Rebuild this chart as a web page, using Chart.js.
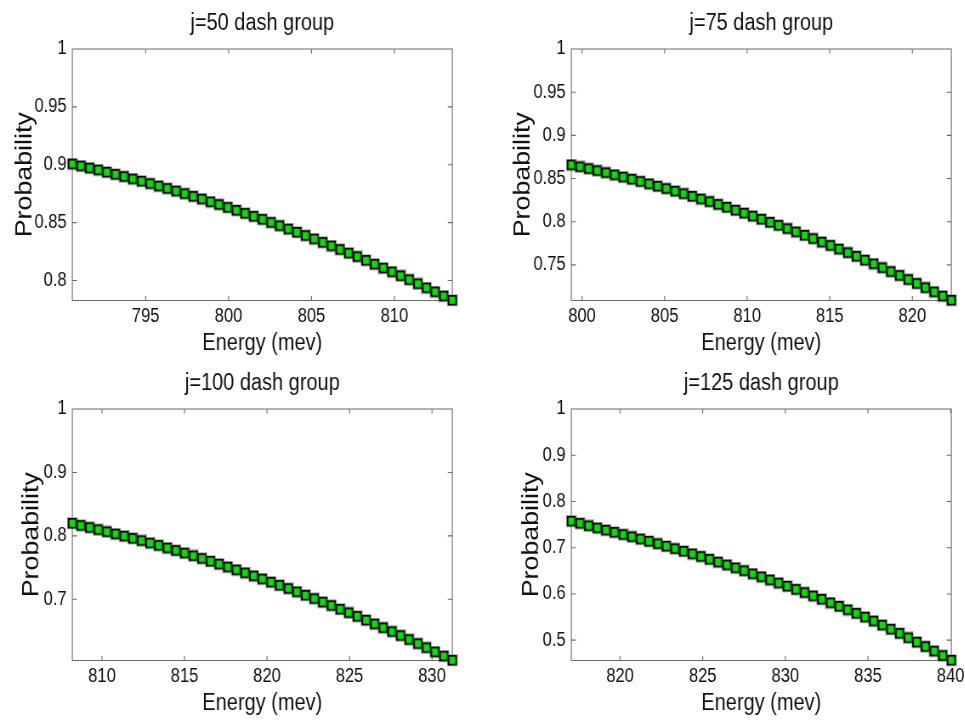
<!DOCTYPE html>
<html>
<head>
<meta charset="utf-8">
<script src="https://cdn.jsdelivr.net/npm/chart.js@4.4.0/dist/chart.umd.min.js"></script>
<style>
  html, body { margin: 0; padding: 0; background: #ffffff; overflow: hidden; width: 965px; height: 721px; position: relative; }
  canvas { position: absolute; display: block; transform: scaleX(0.85); transform-origin: 0 0; }
</style>
</head>
<body>
<canvas id="c50" width="567" height="360" style="left:0px;top:0px;width:567px;height:360px"></canvas>
<canvas id="c75" width="580" height="360" style="left:482px;top:0px;width:580px;height:360px"></canvas>
<canvas id="c100" width="567" height="360" style="left:0px;top:360px;width:567px;height:360px"></canvas>
<canvas id="c125" width="580" height="360" style="left:482px;top:360px;width:580px;height:360px"></canvas>
<script>
// ---------------- data ----------------
const panelTitles = ['j=50 dash group', 'j=75 dash group', 'j=100 dash group', 'j=125 dash group'];
const xAxisTitle = 'Energy (mev)';
const yAxisTitle = 'Probability';

const energy50 = [790.58,791.10,791.62,792.14,792.66,793.18,793.70,794.22,794.75,795.27,795.79,796.31,796.83,797.35,797.87,798.39,798.91,799.43,799.95,800.47,800.99,801.51,802.04,802.56,803.08,803.60,804.12,804.64,805.16,805.68,806.20,806.72,807.24,807.76,808.28,808.80,809.33,809.85,810.37,810.89,811.41,811.93,812.45,812.97,813.49];
const prob50 = [0.9005,0.8988,0.8970,0.8953,0.8934,0.8915,0.8896,0.8876,0.8856,0.8835,0.8814,0.8793,0.8771,0.8748,0.8725,0.8702,0.8678,0.8654,0.8629,0.8604,0.8578,0.8552,0.8526,0.8499,0.8471,0.8443,0.8415,0.8386,0.8357,0.8327,0.8297,0.8266,0.8235,0.8204,0.8172,0.8139,0.8106,0.8073,0.8039,0.8005,0.7970,0.7935,0.7900,0.7864,0.7827];

const energy75 = [799.35,799.87,800.40,800.92,801.44,801.97,802.49,803.01,803.53,804.06,804.58,805.10,805.63,806.15,806.67,807.20,807.72,808.24,808.76,809.29,809.81,810.33,810.86,811.38,811.90,812.43,812.95,813.47,813.99,814.52,815.04,815.56,816.09,816.61,817.13,817.66,818.18,818.70,819.22,819.75,820.27,820.79,821.32,821.84,822.36];
const prob75 = [0.8656,0.8634,0.8612,0.8589,0.8565,0.8540,0.8515,0.8490,0.8463,0.8436,0.8409,0.8381,0.8352,0.8322,0.8292,0.8261,0.8230,0.8198,0.8165,0.8131,0.8097,0.8063,0.8027,0.7991,0.7955,0.7918,0.7880,0.7841,0.7802,0.7762,0.7722,0.7681,0.7639,0.7597,0.7553,0.7510,0.7465,0.7420,0.7375,0.7328,0.7282,0.7234,0.7186,0.7137,0.7088];

const energy100 = [808.20,808.72,809.25,809.77,810.29,810.82,811.34,811.86,812.39,812.91,813.43,813.96,814.48,815.00,815.53,816.05,816.57,817.10,817.62,818.14,818.67,819.19,819.71,820.24,820.76,821.29,821.81,822.33,822.86,823.38,823.90,824.43,824.95,825.47,826.00,826.52,827.04,827.57,828.09,828.61,829.14,829.66,830.18,830.71,831.23];
const prob100 = [0.8195,0.8160,0.8127,0.8094,0.8061,0.8027,0.7993,0.7957,0.7921,0.7884,0.7846,0.7806,0.7766,0.7725,0.7683,0.7640,0.7596,0.7552,0.7506,0.7460,0.7413,0.7366,0.7317,0.7267,0.7217,0.7166,0.7114,0.7061,0.7007,0.6953,0.6898,0.6841,0.6784,0.6727,0.6668,0.6608,0.6548,0.6487,0.6425,0.6362,0.6298,0.6234,0.6168,0.6102,0.6035];

const energy125 = [817.05,817.57,818.10,818.62,819.14,819.66,820.19,820.71,821.23,821.75,822.28,822.80,823.32,823.84,824.37,824.89,825.41,825.93,826.46,826.98,827.50,828.02,828.55,829.07,829.59,830.11,830.64,831.16,831.68,832.20,832.73,833.25,833.77,834.29,834.82,835.34,835.86,836.38,836.91,837.43,837.95,838.47,839.00,839.52,840.04];
const prob125 = [0.7570,0.7521,0.7470,0.7423,0.7375,0.7326,0.7279,0.7232,0.7183,0.7133,0.7081,0.7028,0.6974,0.6919,0.6862,0.6803,0.6744,0.6684,0.6622,0.6560,0.6496,0.6431,0.6366,0.6299,0.6231,0.6163,0.6093,0.6024,0.5953,0.5880,0.5803,0.5728,0.5652,0.5574,0.5495,0.5410,0.5322,0.5233,0.5142,0.5047,0.4953,0.4857,0.4760,0.4662,0.4560];

const xTicks50 = [795, 800, 805, 810];
const xTicks75 = [800, 805, 810, 815, 820];
const xTicks100 = [810, 815, 820, 825, 830];
const xTicks125 = [820, 825, 830, 835, 840];
const yTicks50 = [0.8, 0.85, 0.9, 0.95, 1];
const yTicks75 = [0.75, 0.8, 0.85, 0.9, 0.95, 1];
const yTicks100 = [0.7, 0.8, 0.9, 1];
const yTicks125 = [0.5, 0.6, 0.7, 0.8, 0.9, 1];

// ---------------- styling ----------------
const FONT = "'Liberation Sans', Arial, sans-serif";
const TEXT = '#111111';
const FRAME = '#6a6a6a';

// marker image (canvas is squeezed horizontally by 0.85 via CSS)
function makeMarker() {
  const c = document.createElement('canvas');
  c.width = 13; c.height = 13;
  const g = c.getContext('2d');
  g.fillStyle = 'rgba(120,120,120,0.45)';
  g.fillRect(0, 0, 13, 12.5);
  g.fillStyle = '#000000';
  g.fillRect(1.1, 1, 10.8, 10.5);
  g.fillStyle = '#00e400';
  g.fillRect(3.1, 2.7, 6.8, 7.1);
  return c;
}
const marker = makeMarker();

const framePlugin = {
  id: 'matlabFrame',
  beforeDatasetsDraw(chart) {
    const { ctx, chartArea: a, scales } = chart;
    const x = scales.x, y = scales.y;
    const Lx = 5.3, Ly = 4.5;
    ctx.save();
    ctx.strokeStyle = FRAME;
    ctx.lineWidth = 1.1;
    ctx.beginPath();
    ctx.rect(a.left, a.top, a.right - a.left, a.bottom - a.top);
    x.ticks.forEach(t => {
      const px = x.getPixelForValue(t.value);
      ctx.moveTo(px, a.bottom); ctx.lineTo(px, a.bottom - Ly);
      ctx.moveTo(px, a.top); ctx.lineTo(px, a.top + Ly);
    });
    y.ticks.forEach(t => {
      const py = y.getPixelForValue(t.value);
      ctx.moveTo(a.left, py); ctx.lineTo(a.left + Lx, py);
      ctx.moveTo(a.right, py); ctx.lineTo(a.right - Lx, py);
    });
    ctx.stroke();
    ctx.restore();
  }
};

function makePanel(id, title, xs, ys, xTicks, yTicks, geo) {
  const pts = xs.map((v, i) => ({ x: v, y: ys[i] }));
  new Chart(document.getElementById(id), {
    type: 'scatter',
    data: {
      datasets: [{
        data: pts,
        showLine: false,
        pointStyle: marker,
        pointRadius: 5,
        clip: false
      }]
    },
    plugins: [framePlugin],
    options: {
      responsive: false,
      animation: false,
      devicePixelRatio: 1,
      events: [],
      layout: { padding: { left: 0, right: geo.padRight, top: 0, bottom: 0 } },
      plugins: {
        legend: { display: false },
        tooltip: { enabled: false },
        title: {
          display: true,
          text: title,
          fullSize: false,
          color: TEXT,
          font: { family: FONT, size: 23.5, weight: 'normal' },
          padding: { top: 9.0, bottom: 11.8 }
        }
      },
      scales: {
        x: {
          type: 'linear',
          min: xs[0],
          max: xs[xs.length - 1],
          grid: { display: false, drawTicks: false },
          border: { display: false },
          afterBuildTicks: s => { s.ticks = xTicks.map(v => ({ value: v })); },
          afterFit: s => { s.height = 59.5; },
          ticks: {
            color: TEXT,
            padding: 4,
            maxRotation: 0,
            font: { family: FONT, size: 19.5 },
            callback: v => String(v)
          },
          title: {
            display: true,
            text: xAxisTitle,
            color: TEXT,
            font: { family: FONT, size: 23.5 },
            padding: { top: 0, bottom: 2.5 }
          }
        },
        y: {
          type: 'linear',
          min: Math.min(...ys),
          max: 1,
          grid: { display: false, drawTicks: false },
          border: { display: false },
          afterBuildTicks: s => { s.ticks = yTicks.map(v => ({ value: v })); },
          afterFit: s => { s.width = geo.axisW; },
          ticks: {
            color: TEXT,
            padding: 6.6,
            font: { family: FONT, size: 19.5 },
            callback: v => String(v)
          },
          title: {
            display: true,
            text: yAxisTitle,
            color: TEXT,
            font: { family: FONT, size: 26.8 },
            padding: { top: geo.yTitlePad, bottom: 0 }
          }
        }
      }
    }
  });
}

// geometry in canvas (pre-squeeze) pixels
makePanel('c50', panelTitles[0], energy50, prob50, xTicks50, yTicks50, { axisW: 85.06, padRight: 34.9, yTitlePad: 13.3 });
makePanel('c75', panelTitles[1], energy75, prob75, xTicks75, yTicks75, { axisW: 105.06, padRight: 27.9, yTitlePad: 32.5 });
makePanel('c100', panelTitles[2], energy100, prob100, xTicks100, yTicks100, { axisW: 85.06, padRight: 34.9, yTitlePad: 21.2 });
makePanel('c125', panelTitles[3], energy125, prob125, xTicks125, yTicks125, { axisW: 105.06, padRight: 27.9, yTitlePad: 42.4 });
</script>
</body>
</html>
